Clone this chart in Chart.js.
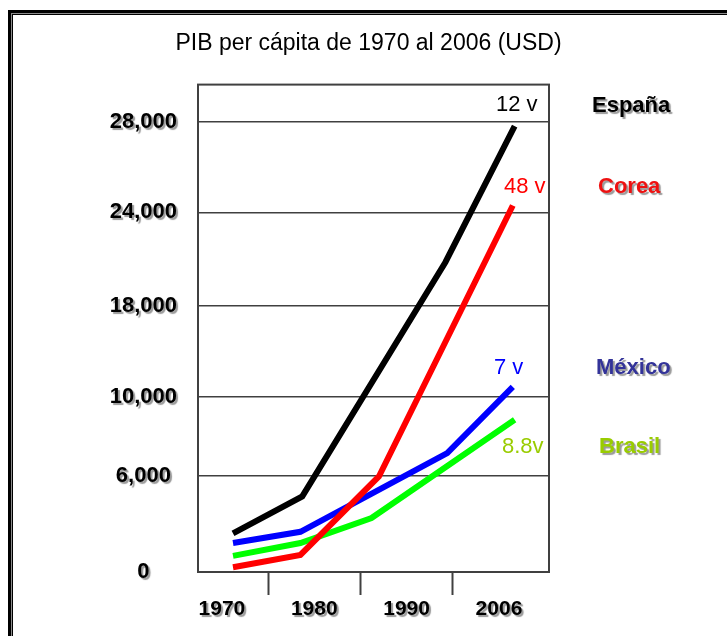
<!DOCTYPE html>
<html>
<head>
<meta charset="utf-8">
<script src="https://cdn.jsdelivr.net/npm/chart.js@4.4.1/dist/chart.umd.min.js"></script>
<style>
body { margin: 0; background: #fff; width: 727px; height: 636px; overflow: hidden; position: relative; }
#frame { position: absolute; left: 8px; top: 10px; width: 800px; height: 700px; border: 3px solid #000;
         box-shadow: inset 0 0 0 1px #8c8c8c, inset 0 0 0 2px #000; }
#chart { position: absolute; left: 0; top: 0; }
</style>
</head>
<body>
<div id="frame"></div>
<canvas id="chart" width="727" height="636"></canvas>
<script>
const chartTitle = 'PIB per cápita de 1970 al 2006 (USD)';
const xLabels = ['1970', '1980', '1990', '2006'];
const yTickValues = [0, 6000, 10000, 18000, 24000, 28000];
const yTickLabels = ['0', '6,000', '10,000', '18,000', '24,000', '28,000'];
const yMax = 29630;

// [x position on the period axis (0 = 1970 ... 3 = 2006), USD]
const espana = [[0.12, 2400], [0.87, 4700], [2.42, 20800], [3.17, 27800]];
const corea  = [[0.12, 300],  [0.85, 1060], [1.70, 5940],  [3.15, 24300]];
const mexico = [[0.12, 1800], [0.85, 2500], [2.44, 7130],  [3.15, 10860]];
const brasil = [[0.12, 1000], [0.85, 1800], [1.62, 3360],  [3.17, 8820]];

const seriesData  = [espana, corea, mexico, brasil];
const seriesNames = ['España', 'Corea', 'México', 'Brasil'];
const seriesNotes = ['12 v', '48 v', '7 v', '8.8v'];

const lineColors = ['#000000', '#ff0000', '#0000ff', '#00ff00'];
const noteColors = ['#000000', '#ff0000', '#0000ff', '#99cc00'];
const nameColors = ['#000000', '#ee1111', '#333399', '#99cc00'];

// the y axis of the original is not linear: where each tick sits (0 = bottom, 1 = top)
const yTickStops = [0, 0.198, 0.360, 0.546, 0.738, 0.924];
const yBreaks = yTickValues.concat([yMax]);
const yStops = yTickStops.concat([1]);

// label placement: x from the plot's right edge, y in canvas pixels
const noteLayout = [{dx: -53, y: 105}, {dx: -45, y: 187}, {dx: -55, y: 368}, {dx: -47, y: 447}];
const nameLayout = [{dx: 43, y: 106}, {dx: 49, y: 187}, {dx: 47, y: 368}, {dx: 50, y: 447}];

const fontFamily = '"Liberation Sans", Arial, sans-serif';
Chart.defaults.font.family = fontFamily;

function valueToDecimal(v) {
    for (let i = 1; i < yBreaks.length; i++) {
        if (v <= yBreaks[i] || i === yBreaks.length - 1) {
            return yStops[i-1] + (v - yBreaks[i-1]) / (yBreaks[i] - yBreaks[i-1]) * (yStops[i] - yStops[i-1]);
        }
    }
}

function decimalToValue(d) {
    for (let i = 1; i < yStops.length; i++) {
        if (d <= yStops[i] || i === yStops.length - 1) {
            return yBreaks[i-1] + (d - yStops[i-1]) / (yStops[i] - yStops[i-1]) * (yBreaks[i] - yBreaks[i-1]);
        }
    }
}

function setShadow(ctx) {
    ctx.shadowColor = 'rgba(0,0,0,0.4)';
    ctx.shadowOffsetX = 2;
    ctx.shadowOffsetY = 2;
    ctx.shadowBlur = 1;
}

class ShadowScale extends Chart.LinearScale {
    drawLabels(area) {
        this.ctx.save();
        setShadow(this.ctx);
        super.drawLabels(area);
        this.ctx.restore();
    }
}
ShadowScale.id = 'shadowLinear';

class StepScale extends ShadowScale {
    getPixelForValue(value) {
        if (value === null || value === undefined || isNaN(value)) return NaN;
        return this.getPixelForDecimal(valueToDecimal(value));
    }
    getValueForPixel(pixel) {
        return decimalToValue(this.getDecimalForPixel(pixel));
    }
}
StepScale.id = 'stepLinear';

Chart.register(ShadowScale, StepScale);

const plotFrame = {
    id: 'plotFrame',
    beforeDatasetsDraw(chart) {
        const ctx = chart.ctx, a = chart.chartArea;
        ctx.save();
        ctx.strokeStyle = '#404040';
        ctx.lineWidth = 2;
        ctx.strokeRect(a.left, a.top, a.right - a.left, a.bottom - a.top);
        ctx.restore();
    }
};

const sideLabels = {
    id: 'sideLabels',
    afterDraw(chart) {
        const ctx = chart.ctx, right = chart.chartArea.right;
        ctx.save();
        ctx.textBaseline = 'middle';
        ctx.textAlign = 'left';
        for (let i = 0; i < seriesNames.length; i++) {
            ctx.font = '22px ' + fontFamily;
            ctx.fillStyle = noteColors[i];
            ctx.fillText(seriesNotes[i], right + noteLayout[i].dx, noteLayout[i].y);
        }
        setShadow(ctx);
        for (let i = 0; i < seriesNames.length; i++) {
            ctx.font = 'bold 22px ' + fontFamily;
            ctx.fillStyle = nameColors[i];
            ctx.fillText(seriesNames[i], right + nameLayout[i].dx, nameLayout[i].y);
        }
        ctx.restore();
    }
};

let datasets = seriesData.map(function(d, i) {
    return {
        label: seriesNames[i],
        data: d,
        borderColor: lineColors[i],
        backgroundColor: lineColors[i],
        borderWidth: 6,
        pointRadius: 0,
        tension: 0,
        fill: false
    };
});

// tick marks sit between the period labels
let xTickValues = [];
xLabels.forEach(function(_, i) {
    if (i > 0) xTickValues.push(i - 0.5);
    xTickValues.push(i);
});

new Chart(document.getElementById('chart'), {
    type: 'line',
    data: { datasets: datasets },
    plugins: [plotFrame, sideLabels],
    options: {
        responsive: false,
        devicePixelRatio: 1,
        animation: false,
        layout: { padding: { left: 10, right: 0, top: 0, bottom: 0 } },
        plugins: {
            legend: { display: false },
            tooltip: { enabled: false },
            title: {
                display: true,
                text: chartTitle,
                color: '#000',
                font: { size: 23, weight: 'normal' },
                padding: { top: 30, bottom: 27 }
            }
        },
        scales: {
            x: {
                type: 'shadowLinear',
                position: 'bottom',
                min: -0.259,
                max: 3.542,
                bounds: 'data',
                afterBuildTicks: function(s) { s.ticks = xTickValues.map(v => ({ value: v })); },
                afterFit: function(s) { s.height = 64; },
                grid: {
                    drawOnChartArea: false,
                    tickLength: 23,
                    tickWidth: 2,
                    tickColor: c => Number.isInteger(c.tick.value) ? 'rgba(0,0,0,0)' : '#404040'
                },
                border: { display: false },
                ticks: {
                    autoSkip: false,
                    maxRotation: 0,
                    padding: 2,
                    color: '#000',
                    font: { size: 21, weight: 'bold' },
                    callback: v => Number.isInteger(v) ? xLabels[v] : ''
                }
            },
            y: {
                type: 'stepLinear',
                position: 'left',
                min: 0,
                max: yMax,
                bounds: 'data',
                afterBuildTicks: function(s) { s.ticks = yTickValues.map(v => ({ value: v })); },
                afterFit: function(s) { s.width = 188; },
                grid: { drawTicks: false, color: '#404040', lineWidth: 1.5 },
                border: { display: false },
                ticks: {
                    autoSkip: false,
                    crossAlign: 'center',
                    padding: 21,
                    color: '#000',
                    font: { size: 22, weight: 'bold' },
                    callback: (v, i) => yTickLabels[i]
                }
            },
            y2: {
                position: 'right',
                grid: { display: false },
                border: { display: false },
                ticks: { display: false },
                afterFit: function(s) { s.width = 178; }
            }
        }
    }
});
</script>
</body>
</html>
